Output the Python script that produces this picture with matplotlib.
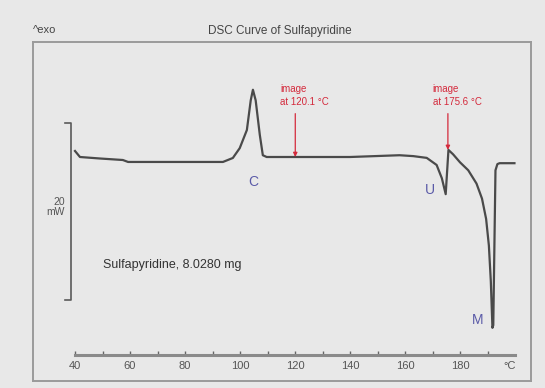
import numpy as np
from matplotlib import pyplot as plt

# DSC trace of sulfapyridine: temperature (°C) vs heat flow (mW, exo up)
temp = [40.0, 41.8, 49.1, 57.4, 59.3, 93.8, 97.4, 99.9, 102.5, 103.9, 104.7,
        105.7, 107.2, 108.3, 109.7, 140.0, 158.0, 163.0, 167.9, 171.5, 173.4,
        174.8, 175.8, 177.5, 180.0, 183.0, 186.0, 188.0, 189.5, 190.5, 191.2,
        191.8, 192.1, 192.9, 193.6, 194.4, 199.8]
heat_flow = [0.68, 0.0, -0.17, -0.34, -0.56, -0.56, -0.11, 1.0, 3.05, 6.4, 7.6,
             6.4, 2.5, 0.2, 0.0, 0.0, 0.2, 0.1, -0.1, -0.9, -2.4,
             -4.2, 0.8, 0.3, -0.6, -1.5, -3.0, -4.7, -7.0, -10.0, -14.0,
             -19.3, -19.0, -1.5, -0.8, -0.7, -0.7]

event_labels = ["C", "U", "M"]
event_pos = [(104.7, -2.8), (169.1, -3.7), (186.5, -18.4)]

image_temps = [120.1, 175.6]
image_flow = [0.0, 0.8]

x_major = [40, 60, 80, 100, 120, 140, 160, 180]
x_minor = [50, 70, 90, 110, 130, 150, 170, 190]
scale_mw = 20

bg = "#e8e8e8"
red = "#d42a3c"
blue = "#5a5aa8"
plt.rcParams["font.family"] = ["Liberation Sans", "DejaVu Sans"]

W, H = 545, 388
fig = plt.figure(figsize=(W / 100, H / 100), dpi=100, facecolor=bg)

# main frame, pixel box 33..531 x 42..381
px_per_c = 2.75
px_per_mw = 8.85
ax = fig.add_axes([33 / W, 1 - 381 / H, (531 - 33) / W, (381 - 42) / H])
ax.set_facecolor(bg)
ax.set_xlim(40 - 42 / px_per_c, 40 + 456 / px_per_c)
ax.set_ylim(-224 / px_per_mw, 115 / px_per_mw)
ax.set_xticks([])
ax.set_yticks([])
for s in ax.spines.values():
    s.set_color("#9a9a9a")
    s.set_linewidth(1.4)

ax.plot(temp, heat_flow, color="#4a4a4a", lw=1.6, solid_joinstyle="round")

for lab, (tx, ty) in zip(event_labels, event_pos):
    ax.text(tx, ty, lab, color=blue, fontsize=10, ha="center", va="center")

# arrows marking where images were taken
for t, f in zip(image_temps, image_flow):
    ax.annotate("", xy=(t, f), xytext=(t, 4.9),
                arrowprops=dict(arrowstyle="-|>", color=red, lw=0.9,
                                mutation_scale=6, shrinkA=0, shrinkB=0))
    ax.text(t - 5.5, 5.6, f"image\nat {t} °C", color=red, fontsize=7,
            ha="left", va="bottom", linespacing=1.4)

# 20 mW scale bar
bar_top = 3.84
bar_x = 38.55
ax.plot([bar_x - 2.2, bar_x, bar_x, bar_x - 2.2],
        [bar_top, bar_top, bar_top - scale_mw, bar_top - scale_mw],
        color="#5a5a5a", lw=1.2)
ax.text(bar_x - 2.2, bar_top - scale_mw / 2 + 0.5, f"{scale_mw}\nmW",
        fontsize=7.5, color="#555555", ha="right", va="center",
        linespacing=1.1)

ax.text(50.2, -12.2, "Sulfapyridine, 8.0280 mg", fontsize=9,
        color="#333333", ha="left", va="center")

# temperature axis drawn inside the frame
tax = fig.add_axes([75 / W, 1 - 355 / H, 440 / W, 0.001])
tax.set_xlim(40, 200)
tax.patch.set_alpha(0)
tax.set_yticks([])
for k in ["top", "left", "right"]:
    tax.spines[k].set_visible(False)
tax.spines["bottom"].set_color("#8a8a8a")
tax.spines["bottom"].set_linewidth(2.2)
tax.set_xticks(x_major)
tax.set_xticks(x_minor, minor=True)
tax.tick_params(axis="x", which="both", direction="in", length=3,
                width=1, color="#666666", labelsize=8,
                labelcolor="#555555", pad=4)
tax.annotate("°C", xy=(198, 0), xycoords=tax.get_xaxis_transform(),
             xytext=(0, -4), textcoords="offset points",
             fontsize=8, color="#555555", ha="center", va="top")

fig.text(280 / W, 1 - 31 / H, "DSC Curve of Sulfapyridine", fontsize=8.5,
         color="#444444", ha="center", va="center")
fig.text(33 / W, 1 - 30 / H, "^exo", fontsize=8, color="#444444",
         ha="left", va="center")

fig.savefig("out.png", dpi=100, facecolor=bg)
